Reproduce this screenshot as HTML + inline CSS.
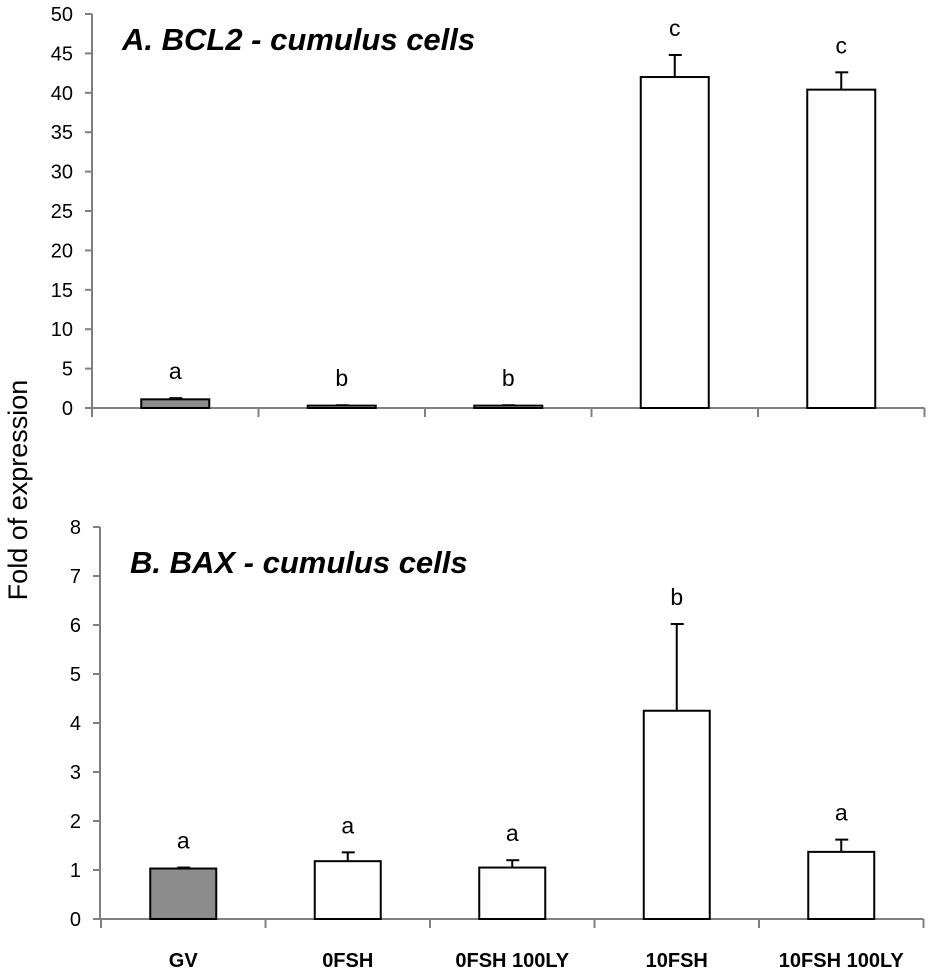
<!DOCTYPE html>
<html><head><meta charset="utf-8"><style>
body{margin:0;background:#fff;width:933px;height:980px;overflow:hidden}
svg{display:block}
text{font-family:"Liberation Sans",Calibri,sans-serif;fill:#000}
</style></head><body>
<svg id="c" width="933" height="980">
<text transform="translate(27,490) rotate(-90)" text-anchor="middle" font-size="27">Fold of expression</text>
<text x="122" y="50" font-size="31" font-weight="bold" font-style="italic">A. BCL2 - cumulus cells</text>
<text x="130" y="573" font-size="31" font-weight="bold" font-style="italic">B. BAX - cumulus cells</text>
</svg>
<script>
const categories=["GV","0FSH","0FSH 100LY","10FSH","10FSH 100LY"];
const bcl2Values=[1.1,0.3,0.3,42.0,40.4];
const bcl2Errors=[0.15,0.05,0.05,2.8,2.2];
const bcl2Letters=["a","b","b","c","c"];
const bcl2Ticks=[0,5,10,15,20,25,30,35,40,45,50];
const baxValues=[1.03,1.18,1.05,4.25,1.37];
const baxErrors=[0.02,0.18,0.15,1.77,0.25];
const baxLetters=["a","a","a","b","a"];
const baxTicks=[0,1,2,3,4,5,6,7,8];
const fills=["#8c8c8c","#fff","#fff","#fff","#fff"];

const svg=document.getElementById('c');
const NS='http://www.w3.org/2000/svg';
function mk(tag,attrs){const e=document.createElementNS(NS,tag);for(const k in attrs)e.setAttribute(k,attrs[k]);svg.appendChild(e);return e;}

function panel(p,vals,errs,letters,ticks,name,showCats){
  const y=v=>p.y0-(v-ticks[0])/(ticks[ticks.length-1]-ticks[0])*(p.y0-p.yTop);
  const x=i=>p.x0+p.cw*(i+0.5);
  let e=mk('line',{x1:p.ax,y1:p.yTop,x2:p.ax,y2:p.y0,stroke:'#808080','stroke-width':2});
  
  
  e=mk('line',{x1:p.ax,y1:p.y0,x2:p.x0+p.cw*5,y2:p.y0,stroke:'#808080','stroke-width':2});
  
  
  ticks.forEach(t=>{
    mk('line',{x1:p.ax-7,y1:y(t),x2:p.ax,y2:y(t),stroke:'#808080','stroke-width':2});
    const l=mk('text',{x:p.ax-19,y:y(t)+7,'text-anchor':'end','font-size':20});
    l.textContent=t;
    
    
  });
  for(let k=0;k<=5;k++)mk('line',{x1:p.x0+p.cw*k,y1:p.y0,x2:p.x0+p.cw*k,y2:p.y0+9,stroke:'#808080','stroke-width':2});
  vals.forEach((v,i)=>{
    const cx=x(i),top=y(v+errs[i]);
    const ln=mk('line',{x1:cx,y1:y(v),x2:cx,y2:top,stroke:'#000','stroke-width':2});
    
    
    mk('line',{x1:cx-6,y1:top,x2:cx+7,y2:top,stroke:'#000','stroke-width':2});
    const r=mk('rect',{x:cx-p.bw/2,y:y(v),width:p.bw,height:Math.max(p.y0-y(v),1),fill:fills[i],stroke:'#000','stroke-width':2});
    
    
    const lt=mk('text',{x:cx,y:top-19,'text-anchor':'middle','font-size':23});
    lt.textContent=letters[i];
    
    
    if(showCats){
      const c=mk('text',{x:cx,y:967,'text-anchor':'middle','font-size':20,'font-weight':'bold'});
      c.textContent=categories[i];
      
      
    }
  });
}
panel({ax:92,x0:92,cw:166.5,bw:68,y0:408,yTop:14},bcl2Values,bcl2Errors,bcl2Letters,bcl2Ticks,'bcl2',false);
panel({ax:100,x0:101,cw:164.5,bw:66,y0:919,yTop:527},baxValues,baxErrors,baxLetters,baxTicks,'bax',true);
</script>
</body></html>
